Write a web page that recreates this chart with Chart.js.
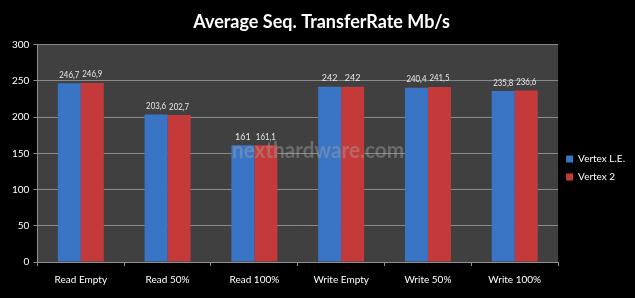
<!DOCTYPE html>
<html>
<head>
<meta charset="utf-8">
<script src="https://cdn.jsdelivr.net/npm/chart.js@4.4.1/dist/chart.umd.min.js"></script>
<style>
  html, body { margin: 0; padding: 0; background: #000; }
  #wrap { width: 635px; height: 298px; }
</style>
</head>
<body>
<div id="wrap"><canvas id="myChart" width="635" height="298"></canvas></div>
<script>
const categories = ["Read Empty", "Read 50%", "Read 100%", "Write Empty", "Write 50%", "Write 100%"];
const vertexLE = [246.7, 203.6, 161, 242, 240.4, 235.8];
const vertex2 = [246.9, 202.7, 161.1, 242, 241.5, 236.6];
const seriesNames = ["Vertex L.E.", "Vertex 2"];
const yTicks = [0, 50, 100, 150, 200, 250, 300];

const FONT = "Lato, 'Open Sans', sans-serif";

// black page + dark plot area
const bgPlugin = {
    id: "bg",
    beforeDraw(chart) {
        const { ctx, chartArea } = chart;
        ctx.save();
        ctx.fillStyle = "#000";
        ctx.fillRect(0, 0, chart.width, chart.height);
        ctx.fillStyle = "#404040";
        ctx.fillRect(chartArea.left, chartArea.top, chartArea.right - chartArea.left, chartArea.bottom - chartArea.top);
        ctx.restore();
    }
};

// value labels above bars + watermark
const labelPlugin = {
    id: "labels",
    afterDatasetsDraw(chart) {
        const { ctx } = chart;
        ctx.save();
        ctx.font = "9px " + FONT;
        ctx.fillStyle = "#e6e6e6";
        ctx.textAlign = "center";
        ctx.textBaseline = "bottom";
        chart.data.datasets.forEach((ds, i) => {
            chart.getDatasetMeta(i).data.forEach((bar, j) => {
                const txt = String(ds.data[j]).replace(".", ",");
                ctx.fillText(txt, bar.x, bar.y - 4, Math.min(ctx.measureText(txt).width, 20));
            });
        });
        ctx.font = "bold 23px " + FONT;
        ctx.fillStyle = "rgba(170,170,170,0.4)";
        ctx.textAlign = "left";
        ctx.textBaseline = "middle";
        ctx.fillText("nexthardware.com", 232, 151, 172);
        ctx.restore();
    }
};

function barGradient(ctx, base, light, dark) {
    const chart = ctx.chart;
    const el = ctx.element;
    if (!el || !chart.chartArea) return base;
    const w = el.width;
    if (!Number.isFinite(el.x) || !Number.isFinite(w) || w <= 0) return base;
    const g = chart.ctx.createLinearGradient(el.x - w / 2, 0, el.x + w / 2, 0);
    g.addColorStop(0, dark);
    g.addColorStop(0.3, light);
    g.addColorStop(0.7, base);
    g.addColorStop(1, dark);
    return g;
}

new Chart(document.getElementById("myChart"), {
    type: "bar",
    data: {
        labels: categories,
        datasets: [{
            label: seriesNames[0],
            data: vertexLE,
            backgroundColor: c => barGradient(c, "#3a74c4", "#4a8ae0", "#2a5a9e"),
            borderWidth: 0
        }, {
            label: seriesNames[1],
            data: vertex2,
            backgroundColor: c => barGradient(c, "#c43a3a", "#e04a4a", "#962828"),
            borderWidth: 0
        }]
    },
    options: {
        responsive: false,
        animation: false,
        layout: { padding: { left: 8, right: 0, top: 0, bottom: 4 } },
        datasets: { bar: { categoryPercentage: 0.53, barPercentage: 1 } },
        plugins: {
            title: {
                display: true,
                text: "Average Seq. TransferRate Mb/s",
                color: "#ffffff",
                font: { family: FONT, size: 18, weight: "bold" },
                padding: { top: 11, bottom: 12 }
            },
            legend: {
                position: "right",
                title: { display: true, text: " ", font: { size: 10 }, padding: { top: 0, bottom: 30 } },
                labels: {
                    color: "#ffffff",
                    font: { family: FONT, size: 10 },
                    boxWidth: 7,
                    boxHeight: 7,
                    padding: 8,
                    generateLabels: chart => chart.data.datasets.map((ds, i) => ({
                        text: ds.label,
                        fillStyle: i === 0 ? "#3a74c4" : "#c43a3a",
                        strokeStyle: i === 0 ? "#3a74c4" : "#c43a3a",
                        fontColor: "#ffffff",
                        lineWidth: 0,
                        datasetIndex: i
                    }))
                }
            },
            tooltip: { enabled: false }
        },
        scales: {
            x: {
                ticks: { color: "#ffffff", font: { family: FONT, size: 10 }, padding: 8 },
                grid: { drawOnChartArea: false, drawTicks: true, tickLength: 4, color: "#909090" },
                border: { color: "#909090" }
            },
            y: {
                min: 0,
                max: 300,
                afterBuildTicks: axis => { axis.ticks = yTicks.map(v => ({ value: v })); },
                ticks: { color: "#ffffff", font: { family: FONT, size: 10 }, padding: 4 },
                grid: { color: "#8a8a8a", tickLength: 4 },
                border: { color: "#909090" }
            }
        }
    },
    plugins: [bgPlugin, labelPlugin]
});
</script>
</body>
</html>
